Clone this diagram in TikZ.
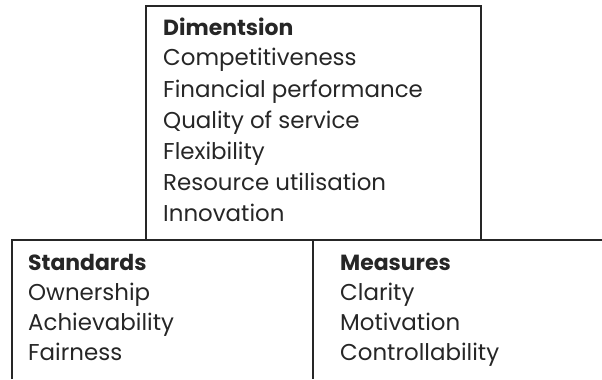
\documentclass[tikz,border=0pt]{standalone}
\usepackage{fontspec}
\setmainfont{Poppins}
\begin{document}
\begin{tikzpicture}[x=1bp,y=-1bp,
  txt/.style={anchor=base west,inner sep=0pt,font=\fontsize{23}{26}\selectfont,text=black!85},
  hd/.style={txt,font=\fontsize{22}{26}\selectfont\bfseries},
  frame/.style={line width=2.2bp,draw=black!85}]
\useasboundingbox (0,0) rectangle (602,379);
\draw[frame] (146,6) rectangle (481,240);
\draw[frame] (12,379) -- (12,240) -- (602,240);
\draw[frame] (313,240) -- (313,379);
\node[hd] (d0) at (163,35) {Dimentsion};
\node[txt] (d1) at (163,65) {Competitiveness};
\node[txt] (d2) at (163,97) {Financial performance};
\node[txt] (d3) at (163,128) {Quality of service};
\node[txt] (d4) at (163,159) {Flexibility};
\node[txt] (d5) at (163,190) {Resource utilisation};
\node[txt] (d6) at (163,221) {Innovation};
\node[hd] (s0) at (28,270) {Standards};
\node[txt] (s1) at (28,300) {Ownership};
\node[txt] (s2) at (28,330) {Achievability};
\node[txt] (s3) at (28,360) {Fairness};
\node[hd] (m0) at (340,270) {Measures};
\node[txt] (m1) at (340,300) {Clarity};
\node[txt] (m2) at (340,330) {Motivation};
\node[txt] (m3) at (340,360) {Controllability};
\end{tikzpicture}
\end{document}
